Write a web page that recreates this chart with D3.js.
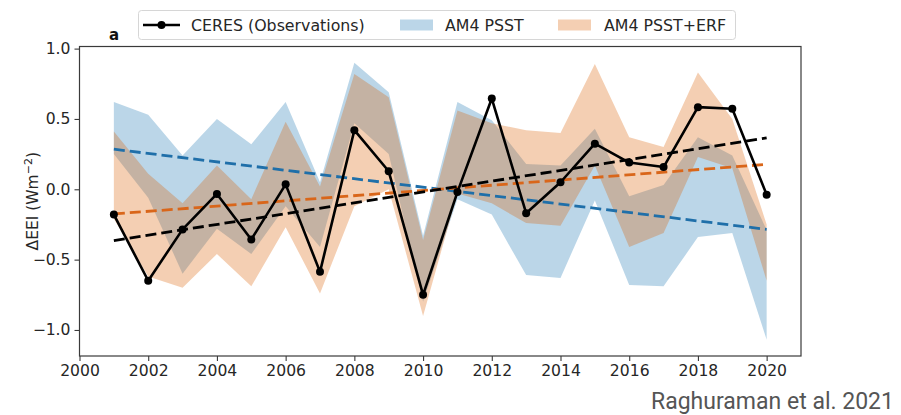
<!DOCTYPE html>
<html>
<head>
<meta charset="utf-8">
<script src="https://cdn.jsdelivr.net/npm/d3@7"></script>
<style>
  html, body { margin: 0; padding: 0; background: #fff; }
  svg { display: block; }
  text { font-family: "DejaVu Sans", sans-serif; }
</style>
</head>
<body>
<svg id="chart" width="901" height="415"></svg>
<script>
// Annual anomalies of Earth's energy imbalance (W m^-2)
const years = [2001, 2002, 2003, 2004, 2005, 2006, 2007, 2008, 2009, 2010,
               2011, 2012, 2013, 2014, 2015, 2016, 2017, 2018, 2019, 2020];
const ceres = [-0.18, -0.65, -0.285, -0.033, -0.357, 0.035, -0.587, 0.42, 0.128, -0.75,
               -0.02, 0.645, -0.17, 0.05, 0.324, 0.19, 0.158, 0.584, 0.572, -0.038];

// AM4 PSST ensemble spread
const psstLow  = [0.25, -0.06, -0.60, -0.28, -0.46, -0.12, -0.41, 0.47, 0.25, -0.80,
                  -0.07, -0.18, -0.61, -0.63, -0.08, -0.68, -0.69, -0.34, -0.31, -1.07];
const psstHigh = [0.62, 0.53, 0.24, 0.50, 0.32, 0.62, 0.05, 0.90, 0.69, -0.33,
                  0.62, 0.49, 0.18, 0.17, 0.43, -0.05, 0.03, 0.37, 0.24, -0.29];

// AM4 PSST+ERF ensemble spread
const erfLow  = [-0.21, -0.62, -0.70, -0.46, -0.69, -0.27, -0.74, -0.12, 0.00, -0.90,
                 -0.03, -0.10, -0.24, -0.26, 0.17, -0.41, -0.31, 0.23, 0.15, -0.65];
const erfHigh = [0.41, 0.11, -0.10, 0.17, -0.07, 0.48, 0.02, 0.82, 0.655, -0.36,
                 0.56, 0.47, 0.42, 0.40, 0.89, 0.37, 0.30, 0.83, 0.50, -0.25];

// Linear trends (end points)
const trendYears = [2001, 2020];
const ceresTrend = [-0.365, 0.365];
const psstTrend  = [0.285, -0.285];
const erfTrend   = [-0.175, 0.177];

const xTicks = [2000, 2002, 2004, 2006, 2008, 2010, 2012, 2014, 2016, 2018, 2020];
const yTicks = [-1.0, -0.5, 0.0, 0.5, 1.0];

const blue = "#1f77b4", orange = "#d95f02";
const blueLine = "#1f6fa9", orangeLine = "#d9661a";

const svg = d3.select("#chart");
const plot = { left: 79.5, right: 801, top: 46.5, bottom: 356 };

const x = d3.scaleLinear().domain([2000, 2021]).range([plot.left, plot.right]);
const y = d3.scaleLinear().domain([-1.185, 1.015]).range([plot.bottom, plot.top]);

const g = svg.append("g");

// Bands
const band = (lo, hi) => d3.area()
  .x((d, i) => x(years[i]))
  .y0((d, i) => y(lo[i]))
  .y1((d, i) => y(hi[i]))(years);

g.append("path").attr("d", band(psstLow, psstHigh))
  .attr("fill", blue).attr("fill-opacity", 0.3);
g.append("path").attr("d", band(erfLow, erfHigh))
  .attr("fill", orange).attr("fill-opacity", 0.3);

// Trend lines
const trend = (vals) => d3.line().x((d, i) => x(trendYears[i])).y((d, i) => y(vals[i]))(trendYears);
[[psstTrend, blueLine], [erfTrend, orangeLine], [ceresTrend, "#000"]].forEach(([vals, c]) => {
  g.append("path").attr("d", trend(vals))
    .attr("fill", "none").attr("stroke", c)
    .attr("stroke-width", 2.8).attr("stroke-dasharray", "11,5");
});

// Observations
const obsLine = d3.line().x((d, i) => x(years[i])).y((d, i) => y(ceres[i]));
g.append("path").attr("d", obsLine(years))
  .attr("fill", "none").attr("stroke", "#000")
  .attr("stroke-width", 2.6).attr("stroke-linejoin", "round");
g.selectAll("circle.obs").data(years).enter().append("circle")
  .attr("class", "obs")
  .attr("cx", (d) => x(d)).attr("cy", (d, i) => y(ceres[i]))
  .attr("r", 4).attr("fill", "#000");

// Axes
const spineColor = "#3a3a3a";
const xAxis = svg.append("g").attr("transform", `translate(0,${plot.bottom})`)
  .call(d3.axisBottom(x).tickValues(xTicks).tickFormat(d3.format("d")).tickSize(5).tickPadding(4));
const yAxis = svg.append("g").attr("transform", `translate(${plot.left},0)`)
  .call(d3.axisLeft(y).tickValues(yTicks)
    .tickFormat((d) => d3.format(".1f")(d).replace("-", "\u2212")).tickSize(5).tickPadding(4));
[xAxis, yAxis].forEach((a) => {
  a.select(".domain").remove();
  a.selectAll("line").attr("stroke", spineColor).attr("stroke-width", 1.1);
  a.selectAll("text").attr("fill", "#262626")
    .style("font-family", "'DejaVu Sans', sans-serif").style("font-size", "15.6px");
});

svg.append("rect")
  .attr("x", plot.left).attr("y", plot.top)
  .attr("width", plot.right - plot.left).attr("height", plot.bottom - plot.top)
  .attr("fill", "none").attr("stroke", spineColor).attr("stroke-width", 1.2);

// Y axis label
const yl = svg.append("text")
  .attr("transform", `translate(38,${(plot.top + plot.bottom) / 2}) rotate(-90)`)
  .attr("text-anchor", "middle").attr("fill", "#262626").style("font-size", "15.5px");
yl.append("tspan").text("\u0394EEI (Wm");
yl.append("tspan").attr("dy", -6).style("font-size", "11px").text("\u22122");
yl.append("tspan").attr("dy", 6).text(")");

// Panel letter
svg.append("text").attr("x", 109).attr("y", 40)
  .style("font-size", "15px").style("font-weight", "bold").attr("fill", "#111").text("a");

// Legend
const leg = svg.append("g");
leg.append("rect").attr("x", 138.5).attr("y", 10.5).attr("width", 597).attr("height", 29)
  .attr("rx", 3).attr("fill", "#fff").attr("fill-opacity", 0.85)
  .attr("stroke", "#d6d6d6").attr("stroke-width", 1);
const ly = 25;
leg.append("line").attr("x1", 143).attr("x2", 180).attr("y1", ly).attr("y2", ly)
  .attr("stroke", "#000").attr("stroke-width", 2.6);
leg.append("circle").attr("cx", 161.5).attr("cy", ly).attr("r", 4).attr("fill", "#000");
leg.append("text").attr("x", 191).attr("y", ly + 5.5).style("font-size", "15.8px")
  .attr("fill", "#262626").text("CERES (Observations)");
leg.append("rect").attr("x", 400).attr("y", ly - 5.5).attr("width", 33).attr("height", 11)
  .attr("fill", blue).attr("fill-opacity", 0.3);
leg.append("text").attr("x", 445).attr("y", ly + 5.5).style("font-size", "15.8px")
  .attr("fill", "#262626").text("AM4 PSST");
leg.append("rect").attr("x", 558).attr("y", ly - 5.5).attr("width", 33).attr("height", 11)
  .attr("fill", orange).attr("fill-opacity", 0.3);
leg.append("text").attr("x", 604).attr("y", ly + 5.5).style("font-size", "15.8px")
  .attr("fill", "#262626").text("AM4 PSST+ERF");

// Source credit
svg.append("text").attr("x", 651).attr("y", 409)
  .attr("textLength", 243).attr("lengthAdjust", "spacingAndGlyphs")
  .style("font-family", "Roboto, sans-serif").style("font-size", "23px")
  .attr("fill", "#555").text("Raghuraman et al. 2021");
</script>
</body>
</html>
